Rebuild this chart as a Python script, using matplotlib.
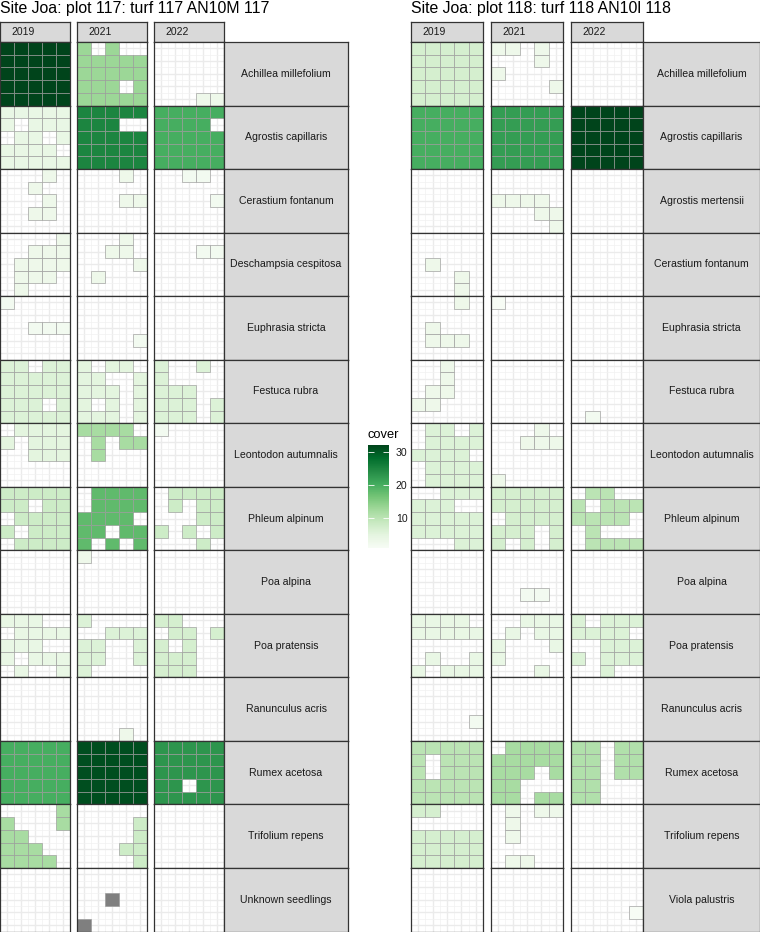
import matplotlib.pyplot as plt
import matplotlib as mpl
import numpy as np

plt.rcParams['font.family'] = ['Liberation Sans', 'DejaVu Sans']

years = ["2019", "2021", "2022"]

# ---- plot 117 ----
title_117 = "Site Joa: plot 117: turf 117 AN10M 117"
species_117 = ["Achillea millefolium", "Agrostis capillaris", "Cerastium fontanum",
               "Deschampsia cespitosa", "Euphrasia stricta", "Festuca rubra",
               "Leontodon autumnalis", "Phleum alpinum", "Poa alpina", "Poa pratensis",
               "Ranunculus acris", "Rumex acetosa", "Trifolium repens", "Unknown seedlings"]
# cover per year (2019, 2021, 2022); None = NA
cover_117 = [[32, 13, 3], [4, 25, 20], [3, 3, 2], [3, 3, 2], [2, 2, 0], [6, 5, 6],
             [5, 12, 2], [8, 18, 8], [0, 3, 0], [4, 6, 7], [0, 3, 0], [20, 31, 23],
             [12, 8, 0], [0, None, 0]]
# occupied subplots, 5 rows x 5 cols, top row first
E = [".....", ".....", ".....", ".....", "....."]
cells_117 = [
    [["XXXXX"] * 5, ["X.X..", "XXXXX", "XXXXX", "XXX.X", "XXXXX"], [".....", ".....", ".....", ".....", "...XX"]],
    [["XXXXX", "X.XXX", ".XX.X", "XXXX.", "XXXXX"], ["XXXXX", "XXX..", "XXXXX", "XXXXX", "XXXXX"], ["XXXXX", "XXXX.", "XXXXX", "XXXXX", "XXXXX"]],
    [["...X.", "..X..", "...X.", "..XX.", "....."], ["...X.", ".....", "...XX", ".....", "....."], ["..XX.", ".....", "....X", ".....", "....."]],
    [["....X", "..XXX", ".XXXX", ".XXX.", ".X..."], ["...X.", "..XX.", "....X", ".X...", "....."], [".....", "...XX", ".....", ".....", "....."]],
    [["X....", ".....", "..XXX", ".....", "....."], [".....", ".....", ".....", "....X", "....."], E],
    [["XX.XX", "XXXXX", "XXXXX", "XXX.X", "XXXXX"], ["X.XX.", "XX..X", "XXX.X", "X.X.X", "XXX.X"], ["X..X.", "X....", "XXX..", "XXX.X", "XXX.X"]],
    [[".XXXX", "X.XXX", "..XXX", ".....", "....."], ["XXXX.", ".X.XX", ".X...", ".....", "....."], ["X....", ".....", ".....", ".....", "....."]],
    [["XXXXX", "XX.XX", ".XXXX", "X.XXX", ".XXXX"], [".XXXX", ".XXXX", "XXXX.", "XX.XX", "X.X.X"], [".XXXX", ".X.XX", "...XX", "X.X.X", "...X."]],
    [E, ["X....", ".....", ".....", ".....", "....."], E],
    [["XXX..", ".XXXX", "XXX..", "X.XXX", ".X..X"], ["X....", "..XXX", "XX..X", "XX..X", "X...."], ["XX...", ".XX.X", "X.X..", "XXX..", "XXX.."]],
    [E, [".....", ".....", ".....", ".....", "...X."], E],
    [["XXXXX"] * 5, ["XXXXX"] * 5, ["XXXXX", "XXXXX", "XXXXX", "XX.XX", "XXXXX"]],
    [["....X", "X...X", "XX...", "XXX..", "XXXX."], [".....", "....X", "....X", "...XX", "....X"], E],
    [E, [".....", ".....", "..X..", ".....", "X...."], E],
]

# ---- plot 118 ----
title_118 = "Site Joa: plot 118: turf 118 AN10l 118"
species_118 = ["Achillea millefolium", "Agrostis capillaris", "Agrostis mertensii",
               "Cerastium fontanum", "Euphrasia stricta", "Festuca rubra",
               "Leontodon autumnalis", "Phleum alpinum", "Poa alpina", "Poa pratensis",
               "Ranunculus acris", "Rumex acetosa", "Trifolium repens", "Viola palustris"]
cover_118 = [[7, 3, 0], [20, 22, 32], [0, 3, 0], [3, 0, 0], [3, 1, 0], [3, 0, 2],
             [6, 3, 0], [6, 7, 10], [0, 2, 0], [4, 4, 6], [2, 0, 0], [10, 12, 11],
             [7, 3, 0], [0, 0, 1]]
cells_118 = [
    [["XXXXX"] * 5, ["XX.X.", "...X.", "X....", "....X", "....."], E],
    [["XXXXX"] * 5, ["XXXXX"] * 5, ["XXXXX"] * 5],
    [E, [".....", ".....", "XXXX.", "...XX", "....X"], E],
    [[".....", ".....", ".X...", "...X.", "...X."], E, E],
    [["...X.", ".....", ".X...", ".XXX.", "....."], ["X....", ".....", ".....", ".....", "....."], E],
    [["..X..", "..X..", ".XX..", "XX...", "....."], E, [".....", ".....", ".....", ".....", ".X..."]],
    [[".XX.X", ".XXXX", "XXXX.", ".XXXX", ".XXXX"], ["...X.", "..XXX", ".....", ".....", "X...."], E],
    [["..XXX", "XXX..", "XXXXX", "XXXXX", "...XX"], ["XXXXX", "XXXXX", ".XXXX", "XXX.X", "X.X.X"], [".XX..", "X.XXX", "XXXX.", ".X...", ".XXXX"]],
    [E, [".....", ".....", ".....", "..XX.", "....."], E],
    [["XXXX.", "XXXXX", ".....", ".X..X", "X.XXX"], ["..XXX", ".X.XX", "X...X", "X....", "...X."], ["X.XXX", "XXXX.", "..XXX", "X.XXX", "..X.."]],
    [[".....", ".....", ".....", "....X", "....."], E, E],
    [["XXXXX", "X.XXX", "X.XXX", "XXXXX", "XXXXX"], [".XXXX", "XXXXX", "XXX.X", "XX...", "XX.XX"], ["XX.XX", "XX.XX", "XX.XX", "XX...", "XX..."]],
    [["XX...", ".....", "XXXXX", "XXXXX", "XXXXX"], [".X.XX", ".X...", ".X...", ".....", ".XX.."], E],
    [E, E, [".....", ".....", ".....", "....X", "....."]],
]

W, H = 760, 932
fig = plt.figure(figsize=(W / 100, H / 100), dpi=100)

all_vals = [v for c in cover_117 + cover_118 for v in c if v]
norm = mpl.colors.Normalize(vmin=min(all_vals), vmax=max(all_vals))
cmap = plt.get_cmap("Greens")

ROW_TOP, ROW_BOT = 42, 931.5
STRIP_TOP = 22


def px_axes(x, y, w, h):
    return fig.add_axes([x / W, 1 - (y + h) / H, w / W, h / H])


def box(ax):
    for s in ax.spines.values():
        s.set_color("#333333")
        s.set_linewidth(0.9)


def draw_facet(title, species, cover, cells, lefts, pw, strip_x1):
    rh = (ROW_BOT - ROW_TOP) / len(species)
    fig.text(lefts[0] / W, 1 - 13 / H, title, fontsize=11.4, va="baseline", ha="left")
    # year strips
    for j, yr in enumerate(years):
        sax = px_axes(lefts[j], STRIP_TOP, pw, ROW_TOP - STRIP_TOP)
        sax.set_facecolor("#D9D9D9")
        sax.set_xticks([]); sax.set_yticks([])
        box(sax)
        sax.text(0.16, 0.5, yr, fontsize=7.5, color="#1a1a1a", ha="left", va="center",
                 transform=sax.transAxes)
    strip_x0 = lefts[-1] + pw
    for i, sp in enumerate(species):
        y0 = ROW_TOP + i * rh
        for j in range(len(years)):
            ax = px_axes(lefts[j], y0, pw, rh)
            ax.set_xlim(0.5, 5.5)
            ax.set_ylim(5.5, 0.5)
            ax.set_xticks(range(1, 6)); ax.set_yticks(range(1, 6))
            ax.set_xticks(np.arange(1.5, 5, 1), minor=True)
            ax.set_yticks(np.arange(1.5, 5, 1), minor=True)
            ax.grid(which="major", color="#EBEBEB", lw=1.0)
            ax.grid(which="minor", color="#F2F2F2", lw=0.5)
            ax.set_axisbelow(True)
            ax.tick_params(which="both", length=0, labelbottom=False, labelleft=False)
            box(ax)
            pat = cells[i][j]
            xs, ys = [], []
            for r, line in enumerate(pat):
                for c, ch in enumerate(line):
                    if ch == "X":
                        xs.append(c + 1)
                        ys.append(r + 1)
            if xs:
                v = cover[i][j]
                col = "#7F7F7F" if v is None else cmap(norm(v))
                ax.bar(xs, 1.0, width=1.0, bottom=np.array(ys) - 0.5, color=col,
                       edgecolor="#9a9a9a", linewidth=0.45, zorder=2)
        rax = px_axes(strip_x0, y0, strip_x1 - strip_x0, rh)
        rax.set_facecolor("#D9D9D9")
        rax.set_xticks([]); rax.set_yticks([])
        box(rax)
        rax.text(0.5, 0.5, sp, fontsize=7.6, color="#1a1a1a", ha="center", va="center",
                 transform=rax.transAxes)


draw_facet(title_117, species_117, cover_117, cells_117, [0, 77, 154], 70, 348)
draw_facet(title_118, species_118, cover_118, cells_118, [411, 491, 571], 72, 760)

# legend
fig.text(368 / W, 1 - 438 / H, "cover", fontsize=9.3, va="baseline", ha="left")
cax = px_axes(368, 445, 21, 103)
cb = fig.colorbar(mpl.cm.ScalarMappable(norm=norm, cmap=cmap), cax=cax, ticks=[10, 20, 30])
cb.outline.set_visible(False)
cax.yaxis.set_ticks_position("both")
cax.tick_params(which="major", direction="in", length=4, width=0.6, color="white",
                labelsize=7.6, pad=5, labelright=True, labelleft=False, labelcolor="#1a1a1a")
cax.tick_params(which="minor", length=0)

fig.savefig("out.png", dpi=100)
